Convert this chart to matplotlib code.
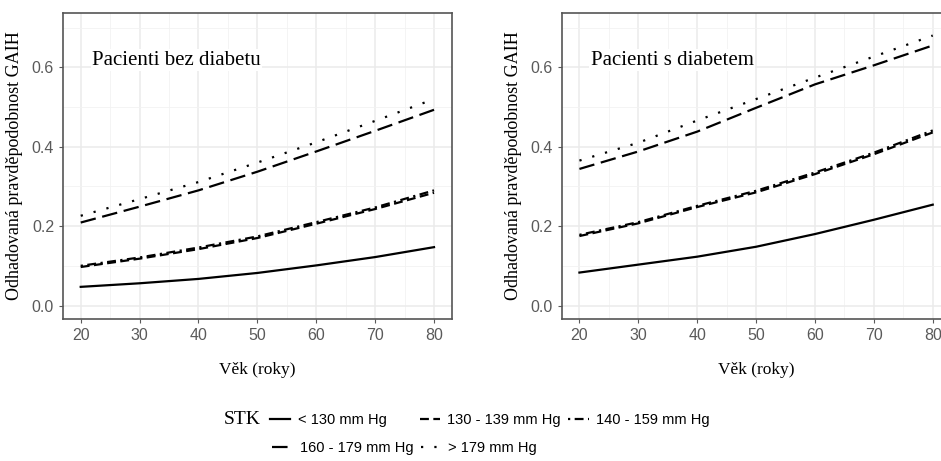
import matplotlib.pyplot as plt
from matplotlib.lines import Line2D
import numpy as np

# vek (roky)
vek = [20, 30, 40, 50, 60, 70, 80]

# odhadovana pravdepodobnost - pacienti bez diabetu
bez_130 = [0.047, 0.056, 0.067, 0.082, 0.101, 0.122, 0.147]
bez_139 = [0.097, 0.118, 0.142, 0.170, 0.206, 0.243, 0.284]
bez_159 = [0.100, 0.121, 0.146, 0.174, 0.210, 0.247, 0.290]
bez_179 = [0.209, 0.249, 0.290, 0.337, 0.388, 0.440, 0.493]
bez_nad = [0.226, 0.268, 0.311, 0.360, 0.411, 0.465, 0.520]

# pacienti s diabetem
s_130 = [0.083, 0.103, 0.123, 0.148, 0.180, 0.216, 0.254]
s_139 = [0.175, 0.207, 0.248, 0.285, 0.331, 0.381, 0.436]
s_159 = [0.178, 0.210, 0.251, 0.289, 0.335, 0.385, 0.441]
s_179 = [0.344, 0.388, 0.438, 0.498, 0.557, 0.605, 0.655]
s_nad = [0.365, 0.410, 0.466, 0.520, 0.574, 0.627, 0.680]

labels = ["< 130 mm Hg", "130 - 139 mm Hg", "140 - 159 mm Hg",
          "160 - 179 mm Hg", "> 179 mm Hg"]
styles = ["-", (0, (4, 2)), (0, (1, 2, 4, 2)), (0, (7, 3)), (0, (1, 5))]

panely = [("Pacienti bez diabetu", [bez_130, bez_139, bez_159, bez_179, bez_nad]),
          ("Pacienti s diabetem", [s_130, s_139, s_159, s_179, s_nad])]

fig = plt.figure(figsize=(9.41, 4.61), dpi=100)
poz = [[0.067, 0.308, 0.413, 0.664], [0.597, 0.308, 0.413, 0.664]]
serif = "Liberation Serif"
sans = "Liberation Sans"

for (nazev, serie), p in zip(panely, poz):
    ax = fig.add_axes(p)
    for y, ls in zip(serie, styles):
        ax.plot(vek, y, color="black", linestyle=ls, linewidth=1.6)
    ax.set_xlim(17, 83)
    ax.set_ylim(-0.034, 0.737)
    ax.set_xticks([20, 30, 40, 50, 60, 70, 80])
    ax.set_yticks([0.0, 0.2, 0.4, 0.6])
    ax.set_yticklabels(["0.0", "0.2", "0.4", "0.6"])
    ax.set_xticks(np.arange(25, 80, 10), minor=True)
    ax.set_yticks([0.1, 0.3, 0.5, 0.7], minor=True)
    for t in ax.get_xticklabels() + ax.get_yticklabels():
        t.set_fontfamily(sans)
    ax.grid(which="major", color="#ebebeb", linewidth=1.1)
    ax.grid(which="minor", color="#f2f2f2", linewidth=0.6)
    ax.set_axisbelow(True)
    ax.tick_params(which="major", colors="#5a5a5a", labelsize=11.5, length=3)
    ax.tick_params(which="minor", length=0)
    for s in ax.spines.values():
        s.set_color("#555555")
        s.set_linewidth(1.2)
    ax.set_xlabel("Věk (roky)", fontfamily=serif, fontsize=12.5, labelpad=14)
    ax.set_ylabel("Odhadovaná pravděpodobnost GAIH", fontfamily=serif,
                  fontsize=13, labelpad=6)
    ax.text(0.075, 0.845, nazev, transform=ax.transAxes, fontfamily=serif,
            fontsize=15, va="center",
            bbox=dict(facecolor="white", edgecolor="none", pad=1))

# legenda: kazda polozka zvlast, jako v puvodnim obrazku
handles = [Line2D([0], [0], color="black", linestyle=ls, linewidth=1.6) for ls in styles]
kotvy = [(0.287, 0.089), (0.446, 0.089), (0.604, 0.089), (0.289, 0.028), (0.447, 0.028)]
for h, lab, k in zip(handles, labels, kotvy):
    leg = fig.legend([h], [lab], loc="center left", bbox_to_anchor=k,
                     frameon=False, prop={"family": sans, "size": 10.5},
                     handlelength=1.4, handletextpad=0.5, borderpad=0,
                     borderaxespad=0)
fig.text(0.238, 0.089, "STK", fontfamily=serif, fontsize=14, va="center")

fig.savefig("out.png", dpi=100)
